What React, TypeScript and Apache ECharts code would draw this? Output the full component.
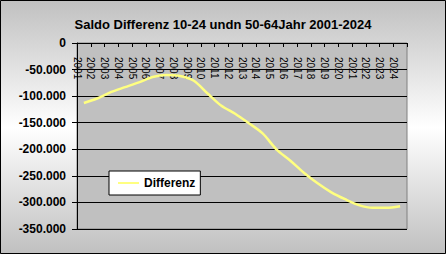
import React, { useEffect, useRef } from "react";
import * as echarts from "echarts";

const years = ["2001","2002","2003","2004","2005","2006","2007","2008","2009","2010","2011","2012","2013","2014","2015","2016","2017","2018","2019","2020","2021","2022","2023","2024"];
const differenz = [-113000,-104000,-92000,-83000,-74000,-64000,-60000,-62000,-71000,-95000,-118000,-133000,-151000,-170000,-200000,-221000,-244000,-264000,-281000,-294000,-305000,-310000,-310000,-307000];
const yTicks = { min: -350000, max: 0, interval: 50000 };
const titleText = "Saldo Differenz 10-24 undn 50-64Jahr 2001-2024";
const seriesName = "Differenz";

const fmt = (v: number) => {
  const s = Math.abs(v).toString().replace(/\B(?=(\d{3})+(?!\d))/g, ".");
  return (v < 0 ? "-" : "") + s;
};

export default function App() {
  const ref = useRef<HTMLDivElement>(null);
  useEffect(() => {
    if (!ref.current) return;
    const chart = echarts.init(ref.current, null, { renderer: "svg" });
    const font = "Liberation Sans, Arial, sans-serif";
    chart.setOption({
      animation: false,
      backgroundColor: new echarts.graphic.LinearGradient(0, 0, 0, 1, [
        { offset: 0, color: "#c0c0c0" },
        { offset: 0.5, color: "#ffffff" },
        { offset: 1, color: "#c0c0c0" },
      ]),
      title: {
        text: titleText,
        left: "center",
        top: 13,
        textStyle: { fontFamily: font, fontSize: 13, fontWeight: "bold", color: "#000" },
      },
      legend: {
        data: [{ name: seriesName, icon: "rect" }],
        left: 109,
        top: 171,
        padding: [6, 5, 6, 9],
        itemWidth: 21,
        itemHeight: 2,
        backgroundColor: "#ffffff",
        borderColor: "#000000",
        borderWidth: 1,
        borderRadius: 0,
        textStyle: { fontFamily: font, fontSize: 12, fontWeight: "bold", color: "#000" },
      },
      grid: {
        left: 77,
        top: 43,
        right: 39,
        bottom: 25,
        show: true,
        backgroundColor: "#c0c0c0",
        borderColor: "#808080",
        borderWidth: 1,
      },
      xAxis: [
        {
          type: "category",
          data: years,
          boundaryGap: true,
          position: "top",
          show: false,
        },
        {
          type: "category",
          data: [...years, ""],
          boundaryGap: false,
          position: "top",
          axisLine: { show: true, lineStyle: { color: "#000", width: 1 } },
          axisTick: { show: true, inside: true, length: 4, interval: 0, lineStyle: { color: "#000" } },
          axisLabel: {
            show: true,
            inside: true,
            rotate: 90,
            margin: 14,
            interval: 0,
            padding: [0, 0, 7, 0],
            fontFamily: font,
            fontSize: 10,
            color: "#000",
          },
          splitLine: { show: false },
        },
      ],
      yAxis: {
        type: "value",
        min: yTicks.min,
        max: yTicks.max,
        interval: yTicks.interval,
        axisLine: { show: true, lineStyle: { color: "#000", width: 1 } },
        axisTick: { show: true, length: 5, lineStyle: { color: "#000" } },
        axisLabel: {
          margin: 11,
          formatter: (v: number) => fmt(v),
          fontFamily: font,
          fontSize: 12,
          fontWeight: "bold",
          color: "#000",
        },
        splitLine: { show: true, lineStyle: { color: "#000", width: 1 } },
      },
      graphic: [
        {
          type: "rect",
          shape: { x: 0.5, y: 0.5, width: 445, height: 253 },
          style: { fill: "none", stroke: "#000", lineWidth: 1 },
          silent: true,
          z: 100,
        },
      ],
      series: [
        {
          name: seriesName,
          type: "line",
          xAxisIndex: 0,
          data: differenz,
          smooth: 0.3,
          showSymbol: false,
          symbol: "none",
          lineStyle: { color: "#FFFF80", width: 2.5 },
          itemStyle: { color: "#FFFF80" },
        },
      ],
    });
    return () => chart.dispose();
  }, []);
  return (
    <div
      ref={ref}
      style={{ position: "fixed", left: 0, top: 0, width: 446, height: 254 }}
    />
  );
}
